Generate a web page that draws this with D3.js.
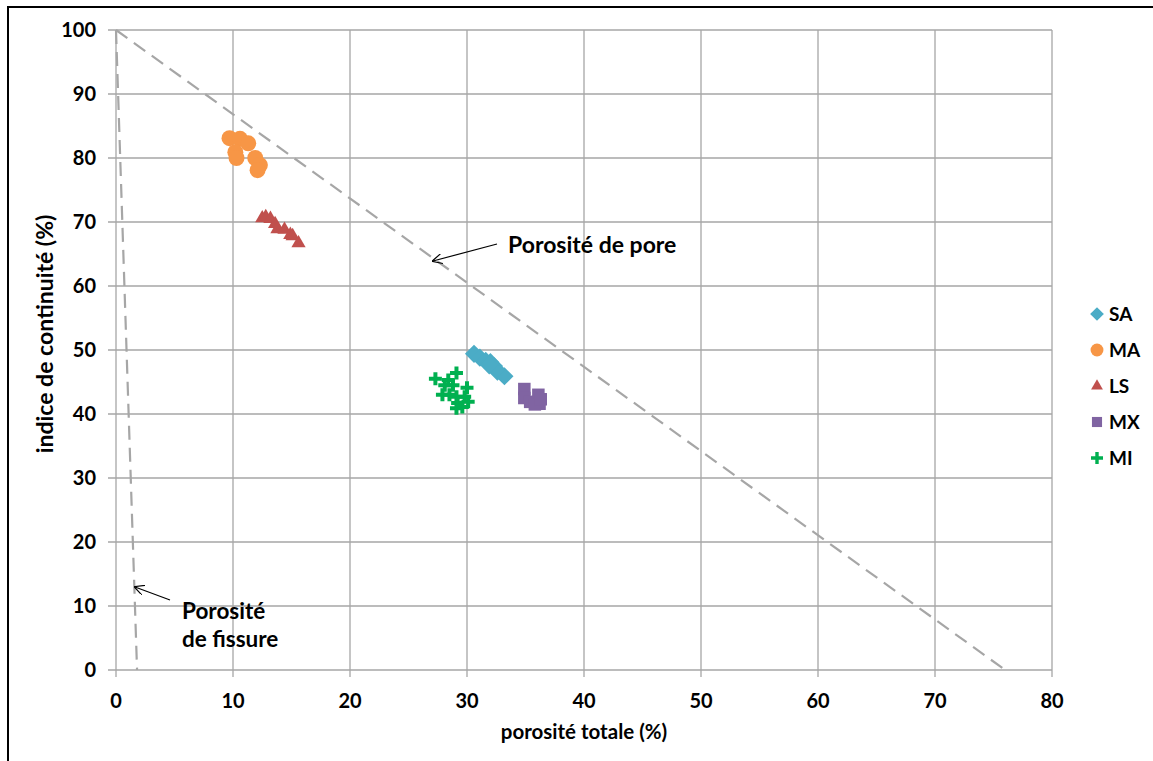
<!DOCTYPE html>
<html><head><meta charset="utf-8">
<script src="https://cdn.jsdelivr.net/npm/d3@7"></script>
<style>body{margin:0;background:#fff}svg{display:block}text{font-family:Lato,"Open Sans",sans-serif;font-weight:bold}</style>
</head><body><svg id="c" width="1153" height="761"></svg>
<script>
const xTicks = [0,10,20,30,40,50,60,70,80];
const yTicks = [0,10,20,30,40,50,60,70,80,90,100];
const seriesNames = ["SA","MA","LS","MX","MI"];
const seriesColors = ["#4bacc6","#f79646","#c0504d","#8064a2","#00b050"];
const SA = [[30.6,49.4],[31.1,48.8],[31.6,48.3],[32.0,48.1],[32.3,47.5],[32.6,46.6],[33.2,45.9],[32.5,47.0],[31.9,47.6]];
const MA = [[9.7,83.1],[10.6,83.0],[11.3,82.3],[10.2,80.9],[10.3,80.0],[11.9,80.0],[12.3,78.9],[12.1,78.1]];
const LS = [[12.5,70.6],[12.8,70.8],[13.2,70.5],[13.6,69.7],[13.8,68.9],[14.4,68.8],[14.9,68.0],[15.1,67.8],[15.6,66.7]];
const MX = [[34.9,43.9],[34.9,42.5],[35.4,41.9],[36.1,43.0],[36.2,41.6],[35.8,41.5],[36.3,42.3]];
const MI = [[27.3,45.5],[29.1,46.4],[28.4,45.3],[28.1,44.5],[28.8,44.5],[30.0,44.1],[27.9,43.0],[28.5,43.0],[29.1,42.7],[29.8,42.7],[29.2,41.7],[30.1,41.9],[29.1,40.9],[29.6,41.1]];
const poreLine = [[0,100],[76,0]];
const fissureLine = [[0,100],[1.8,0]];

const svg = d3.select("#c");
const x = d3.scaleLinear().domain([0,80]).range([116,1052]);
const y = d3.scaleLinear().domain([0,100]).range([670,30]);

// outer frame
svg.append("path").attr("d","M8,761 V7 H1153").attr("fill","none").attr("stroke","#000").attr("stroke-width",2);

const grid = svg.append("g").attr("stroke","#a6a6a6").attr("stroke-width",1.3);
xTicks.forEach(t=>grid.append("line").attr("x1",x(t)).attr("x2",x(t)).attr("y1",y(100)).attr("y2",y(0)+7));
yTicks.forEach(t=>grid.append("line").attr("x1",x(0)-8).attr("x2",x(80)).attr("y1",y(t)).attr("y2",y(t)));

svg.append("g").selectAll("text").data(xTicks).join("text")
  .attr("x",d=>x(d)).attr("y",y(0)+38).attr("text-anchor","middle").attr("font-size",20).text(d=>d);
svg.append("g").selectAll("text").data(yTicks).join("text")
  .attr("x",x(0)-20).attr("y",d=>y(d)+7).attr("text-anchor","end").attr("font-size",20).text(d=>d);

svg.append("text").attr("x",584).attr("y",739).attr("text-anchor","middle").attr("font-size",20.5).text("porosité totale (%)");
svg.append("text").attr("transform","translate(53,334) rotate(-90)").attr("text-anchor","middle").attr("font-size",23).text("indice de continuité (%)");

const line = d3.line().x(d=>x(d[0])).y(d=>y(d[1]));
[poreLine,fissureLine].forEach(l=>svg.append("path").attr("d",line(l)).attr("fill","none")
  .attr("stroke","#a6a6a6").attr("stroke-width",2.2).attr("stroke-dasharray","14,8"));

// annotations
svg.append("defs").append("marker").attr("id","arr").attr("viewBox","0 0 10 10").attr("refX",9).attr("refY",5)
  .attr("markerWidth",10).attr("markerHeight",10).attr("orient","auto").attr("markerUnits","userSpaceOnUse")
  .append("path").attr("d","M0,0 L10,5 L0,10").attr("fill","none").attr("stroke","#000").attr("stroke-width",1.2);
svg.append("line").attr("x1",497).attr("y1",244).attr("x2",433).attr("y2",261).attr("stroke","#000").attr("stroke-width",1.2).attr("marker-end","url(#arr)");
svg.append("text").attr("x",508).attr("y",253).attr("font-size",23).text("Porosité de pore");
svg.append("line").attr("x1",170).attr("y1",600).attr("x2",135).attr("y2",587).attr("stroke","#000").attr("stroke-width",1.2).attr("marker-end","url(#arr)");
svg.append("text").attr("x",182).attr("y",619).attr("font-size",22.5).text("Porosité");
svg.append("text").attr("x",182).attr("y",647).attr("font-size",22.5).text("de fissure");

const shapes = {
  SA: d3.symbol(d3.symbolDiamond2, 210),
  MA: d3.symbol(d3.symbolCircle, 200),
  LS: d3.symbol(d3.symbolTriangle2, 145),
  MX: d3.symbol(d3.symbolSquare2, 200),
  MI: null
};
const plusPath = "M-6.5,-2 H-2 V-6.5 H2 V-2 H6.5 V2 H2 V6.5 H-2 V2 H-6.5 Z";
const data = {SA,MA,LS,MX,MI};
function symPath(name){ return name==="MI" ? plusPath : shapes[name](); }
const drawOrder = ["MA","LS","SA","MX","MI"];
drawOrder.forEach(n=>{
  const col = seriesColors[seriesNames.indexOf(n)];
  svg.append("g").selectAll("path").data(data[n]).join("path")
    .attr("d",symPath(n)).attr("fill",col)
    .attr("transform",d=>`translate(${x(d[0])},${y(d[1])})`);
});

// legend
const legendSizes = {SA:120, MA:130, LS:100, MX:130};
const lg = svg.append("g");
seriesNames.forEach((n,i)=>{
  const yy = 314 + i*36;
  const s = n==="MI" ? "M-6,-1.7 H-1.7 V-6 H1.7 V-1.7 H6 V1.7 H1.7 V6 H-1.7 V1.7 H-6 Z"
                     : d3.symbol(shapes[n].type(), legendSizes[n])();
  lg.append("path").attr("d", s).attr("fill",seriesColors[i]).attr("transform",`translate(1097,${yy})`);
  lg.append("text").attr("x",1109).attr("y",yy+7).attr("font-size",19).text(n);
});
</script></body></html>
